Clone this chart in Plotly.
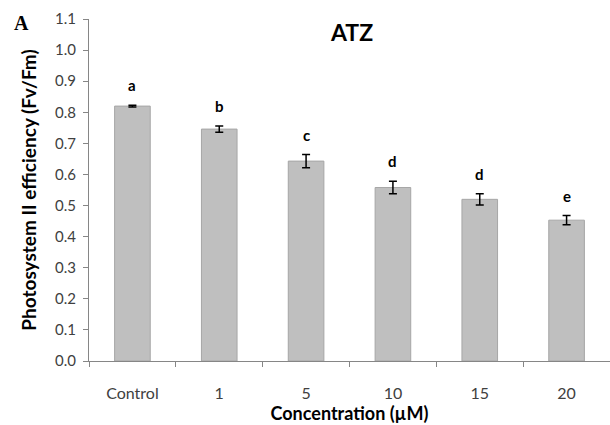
import plotly.graph_objects as go

# data
categories = ['Control', '1', '5', '10', '15', '20']
fv_fm = [0.820, 0.746, 0.643, 0.558, 0.520, 0.453]
sem = [0.003, 0.010, 0.021, 0.020, 0.018, 0.015]
letters = ['a', 'b', 'c', 'd', 'd', 'e']

grey_txt = '#404040'
axis_col = '#868686'

fig = go.Figure(go.Bar(
    x=categories, y=fv_fm,
    marker=dict(color='#BFBFBF', line=dict(color='#A6A6A6', width=1)),
    error_y=dict(type='data', array=sem, color='black', thickness=1.5, width=4),
    width=0.41,
))

# significance letters above the error bars (x = category index)
for i, (v, e, l) in enumerate(zip(fv_fm, sem, letters)):
    fig.add_annotation(x=i, y=v + e, text=l, showarrow=False, yanchor='bottom', yshift=9,
                       font=dict(family='Lato', size=15, color='black', weight='bold'))

fig.add_annotation(text='ATZ', xref='paper', yref='paper', x=0.504, y=0.962, yanchor='middle',
                   showarrow=False, font=dict(family='Lato', size=23, color='black', weight='bold'))
fig.add_annotation(text='A', xref='paper', yref='paper', x=-0.1475, y=0.988, xanchor='left', yanchor='middle',
                   showarrow=False, font=dict(family='Liberation Serif', size=20, color='black', weight='bold'))

fig.update_layout(
    width=610, height=425,
    margin=dict(l=89, r=0, t=19, b=64),
    plot_bgcolor='white', paper_bgcolor='white',
    showlegend=False,
    font=dict(family='Lato', color=grey_txt),
)
fig.update_xaxes(
    type='category', tickangle=0, range=[-0.5, 5.5], automargin=False,
    showline=True, linecolor=axis_col, linewidth=1,
    ticks='outside', tickson='boundaries', ticklen=5, tickcolor=axis_col,
    tickfont=dict(size=16, color=grey_txt), ticklabelstandoff=18,
    title=dict(text='Concentration (µM)', font=dict(size=18, color='black', weight='bold'), standoff=4),
)
fig.update_yaxes(
    range=[0, 1.1001], dtick=0.1, tickformat='.1f', automargin=False,
    showline=True, linecolor=axis_col, linewidth=1, showgrid=False, zeroline=False,
    ticks='outside', ticklen=5, tickcolor=axis_col,
    tickfont=dict(size=15, color=grey_txt), ticklabelstandoff=4,
    title=dict(text='Photosystem II efficiency (Fv/Fm)', font=dict(size=19, color='black', weight='bold'), standoff=13),
)

fig.write_html('out.html', config={'displayModeBar': False},
               post_script="document.body.style.margin='0';")
